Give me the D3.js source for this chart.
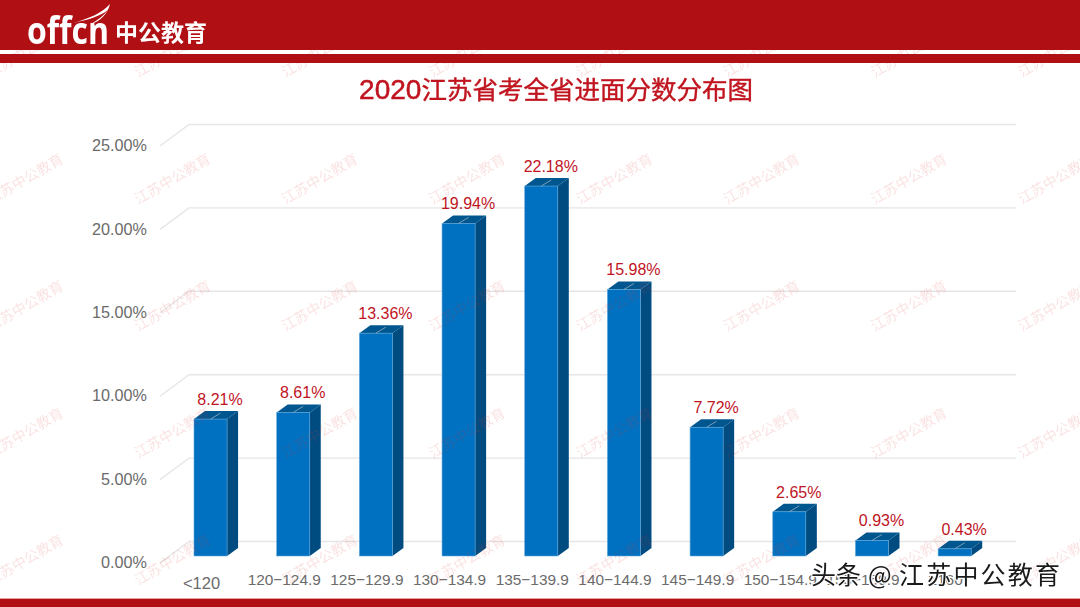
<!DOCTYPE html>
<html>
<head>
    <meta charset="UTF-8">
    <title>2020江苏省考全省进面分数分布图</title>
    <script src="https://cdn.jsdelivr.net/npm/d3@7"></script>
    <style>
        html, body { margin: 0; padding: 0; background: #fff; overflow: hidden; }
        svg { display: block; }
        text { font-family: "Liberation Sans", Arial, sans-serif; }
        .cjk { font-family: "Noto Sans CJK SC", sans-serif; }
    </style>
</head>
<body>
<svg id="chart" width="1080" height="607"></svg>
<script>
    var titleYear = "2020";
    var titleText = "江苏省考全省进面分数分布图";
    var categories = ["<120", "120−124.9", "125−129.9", "130−134.9", "135−139.9", "140−144.9", "145−149.9", "150−154.9", "155−159.9", "≥160"];
    var values = [8.21, 8.61, 13.36, 19.94, 22.18, 15.98, 7.72, 2.65, 0.93, 0.43];
    var yTicks = [0, 5, 10, 15, 20, 25];

    var svg = d3.select("#chart");

    // back wall of the 3D plot is what the scale maps to
    var x = d3.scaleBand().domain(categories).range([169.2, 996]).paddingInner(0.6).paddingOuter(0.3);
    var y = d3.scaleLinear().domain([0, 25]).range([541.5, 124.5]);

    var floorDx = 29, floorDy = 21.5;   // wall to front edge of floor
    var barFront = 14.5;                // bars stand this far in front of the wall
    var capDx = 11, capDy = 8;

    // gridlines
    var grid = svg.append("g").attr("fill", "none").attr("stroke", "#e6e6e6").attr("stroke-width", 1.4);
    grid.selectAll("path").data(yTicks).join("path")
        .attr("d", function (d) {
            return "M" + (189 - floorDx) + "," + (y(d) + floorDy) + "L189," + y(d) + "L1016," + y(d);
        });

    // bars
    var bars = svg.append("g").selectAll("g").data(values).join("g")
        .attr("transform", function (d, i) { return "translate(" + x(categories[i]) + ",0)"; });
    var w = x.bandwidth();
    var base = y(0) + barFront;

    bars.append("path")
        .attr("fill", "#004b80")
        .attr("d", function (d) {
            var t = y(d) + barFront;
            return "M" + w + "," + t + "L" + (w + capDx) + "," + (t - capDy) + "L" + (w + capDx) + "," + (base - capDy) + "L" + w + "," + base + "Z";
        });
    bars.append("path")
        .attr("fill", "#00568f")
        .attr("d", function (d) {
            var t = y(d) + barFront;
            return "M0," + t + "L" + capDx + "," + (t - capDy) + "L" + (w + capDx) + "," + (t - capDy) + "L" + w + "," + t + "Z";
        });
    bars.append("rect")
        .attr("y", function (d) { return y(d) + barFront; })
        .attr("width", w)
        .attr("height", function (d) { return base - (y(d) + barFront); })
        .attr("fill", "#0070c0")
        .attr("stroke", "#5fa8dc").attr("stroke-width", 0.6);
    // small leader line on the cap
    bars.append("line")
        .attr("x1", w / 2).attr("x2", w / 2 + 10)
        .attr("y1", function (d) { return y(d) + barFront; })
        .attr("y2", function (d) { return y(d) + barFront - 6; })
        .attr("stroke", "#9db0bf").attr("stroke-width", 0.8);

    // value labels
    bars.append("text")
        .attr("x", w / 2 + 9.5)
        .attr("y", function (d) { return y(d) + barFront - 14; })
        .attr("text-anchor", "middle")
        .attr("font-size", 16)
        .attr("fill", "#c0141f")
        .text(function (d) { return d.toFixed(2) + "%"; });

    // axes
    var yAxis = d3.axisLeft(y).tickValues(yTicks).tickSize(0).tickPadding(0)
        .tickFormat(function (d) { return d3.format(".2f")(d) + "%"; });
    var yG = svg.append("g").attr("transform", "translate(147," + (floorDy - 0.5) + ")").call(yAxis);
    yG.select(".domain").remove();
    yG.selectAll("text").attr("font-size", 16.2).attr("fill", "#6b6b6b")
        .style("font-family", "'Liberation Sans', Arial, sans-serif");

    var xAxis = d3.axisBottom(x).tickSize(0).tickPadding(0);
    var xG = svg.append("g").attr("transform", "translate(-9,573)").call(xAxis);
    xG.select(".domain").remove();
    xG.selectAll("text")
        .attr("font-size", function (d) { return d === "<120" ? 16.5 : 15.4; })
        .attr("fill", "#6b6b6b")
        .style("font-family", "'Liberation Sans', Arial, sans-serif")
        .attr("dy", function (d) { return d === "<120" ? "0.95em" : "0.8em"; });

    // watermark sits over the chart
    var wmX = [24.7, 172, 319.3, 466.6, 613.9, 761.2, 908.5, 1055.8];
    var wmY = [51, 178, 305, 432, 559];
    var wm = svg.append("g").attr("opacity", 0.15);
    wmY.forEach(function (wy) {
        wmX.forEach(function (wx) {
            wm.append("text")
                .attr("transform", "translate(" + wx + "," + wy + ") rotate(-30)")
                .attr("text-anchor", "middle")
                .attr("dominant-baseline", "central")
                .attr("font-size", 14.2)
                .attr("fill", "#e04040")
                .attr("class", "cjk")
                .text("江苏中公教育");
        });
    });

    // header and footer bands
    svg.append("rect").attr("width", 1080).attr("height", 50).attr("fill", "#b00f14");
    svg.append("rect").attr("y", 54).attr("width", 1080).attr("height", 9).attr("fill", "#b00f14");
    svg.append("rect").attr("y", 598).attr("width", 1080).attr("height", 1).attr("fill", "#e8a0a0");
    svg.append("rect").attr("y", 599).attr("width", 1080).attr("height", 8).attr("fill", "#b00f14");

    // logo
    svg.append("text").attr("x", 27).attr("y", 44).attr("font-size", 38).attr("font-weight", 700)
        .attr("fill", "#fff").attr("textLength", 82).attr("lengthAdjust", "spacingAndGlyphs")
        .style("font-family", "'Open Sans', sans-serif").text("offcn");
    svg.append("path").attr("fill", "#fff")
        .attr("d", "M110,4C102,13 88,19 73,23C88,20 100,16 108,10C104,15 98,20 91,24C101,21 108,13 110,4Z");
    svg.append("text").attr("x", 115).attr("y", 41).attr("class", "cjk").attr("font-size", 23)
        .attr("font-weight", 700).attr("fill", "#fff").text("中公教育");

    // title
    var title = svg.append("text").attr("x", 556).attr("y", 99).attr("text-anchor", "middle")
        .attr("fill", "#c0141f");
    title.append("tspan").attr("font-size", 28).attr("stroke", "#c0141f").attr("stroke-width", 0.5).text(titleYear);
    title.append("tspan").attr("class", "cjk").attr("font-size", 25.5).attr("stroke", "#c0141f").attr("stroke-width", 0.4).text(titleText);

    // platform watermark
    var stamp = svg.append("g").attr("class", "cjk").attr("fill", "#1a1a1a").attr("stroke", "#fff")
        .attr("stroke-width", 2.2).attr("paint-order", "stroke");
    stamp.append("text").attr("class", "cjk").attr("x", 811).attr("y", 584).attr("font-size", 25)
        .attr("letter-spacing", 0).text("头条");
    stamp.append("text").attr("class", "cjk").attr("x", 868).attr("y", 584).attr("font-size", 25).text("@");
    stamp.append("text").attr("class", "cjk").attr("x", 899).attr("y", 584).attr("font-size", 25)
        .attr("letter-spacing", 2.2).text("江苏中公教育");
</script>
</body>
</html>
